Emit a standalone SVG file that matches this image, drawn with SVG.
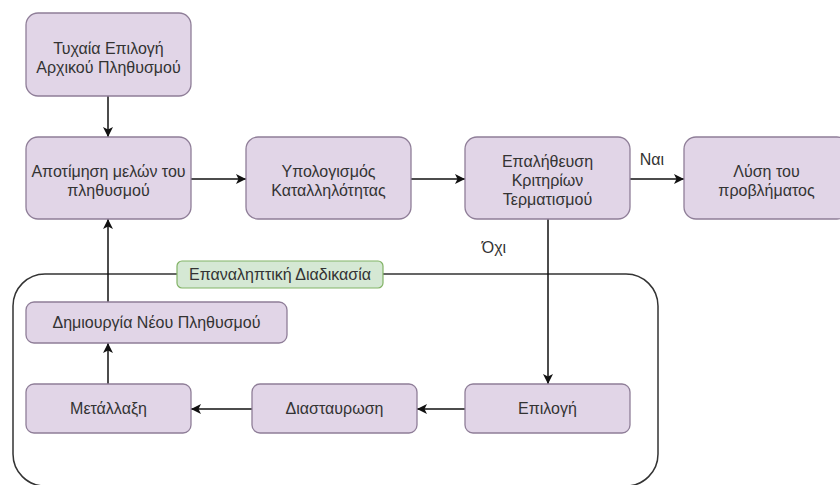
<svg xmlns="http://www.w3.org/2000/svg" width="840" height="485" viewBox="0 0 840 485">
<defs>
<style>
.box{fill:#e1d5e7;stroke:#8f7e98;stroke-width:1.3}
.t{font-family:"Liberation Sans",Arial,sans-serif;font-size:16px;fill:#333;text-anchor:middle}
.e{fill:none;stroke:#111;stroke-width:1.5}
</style>
<marker id="ah" markerUnits="userSpaceOnUse" markerWidth="12" markerHeight="12" refX="10" refY="5" orient="auto">
<path d="M0,0 L10,5 L0,10 L2.5,5 Z" fill="#111"/>
</marker>
</defs>
<rect width="840" height="485" fill="#fff"/>
<g id="container">
<rect x="13" y="274" width="645" height="212" rx="32" ry="32" fill="none" stroke="#333" stroke-width="1.5"/>
</g>
<g id="connectors">
<line class="e" x1="108" y1="96" x2="108" y2="137" marker-end="url(#ah)"/>
<line class="e" x1="191" y1="179" x2="246" y2="179" marker-end="url(#ah)"/>
<line class="e" x1="411" y1="179" x2="465" y2="179" marker-end="url(#ah)"/>
<line class="e" x1="630" y1="179" x2="684" y2="179" marker-end="url(#ah)"/>
<line class="e" x1="548" y1="219" x2="548" y2="384" marker-end="url(#ah)"/>
<line class="e" x1="465" y1="409" x2="417" y2="409" marker-end="url(#ah)"/>
<line class="e" x1="252" y1="409" x2="191" y2="409" marker-end="url(#ah)"/>
<line class="e" x1="108" y1="384" x2="108" y2="343" marker-end="url(#ah)"/>
<line class="e" x1="108" y1="302" x2="108" y2="219" marker-end="url(#ah)"/>
<text class="t" x="652" y="165">Ναι</text>
<text class="t" x="494" y="253">Όχι</text>
</g>
<g id="loop-label">
<rect x="177" y="261" width="206" height="27" rx="5" fill="#d5e8d4" stroke="#82b366" stroke-width="1.2"/>
<text class="t" x="280" y="280">Επαναληπτική Διαδικασία</text>
</g>
<g id="n1">
<rect class="box" x="26" y="13" width="165" height="83" rx="12"/>
<text class="t" x="108.5" y="54">Τυχαία Επιλογή</text>
<text class="t" x="108.5" y="73">Αρχικού Πληθυσμού</text>
</g>
<g id="n2">
<rect class="box" x="26" y="137" width="165" height="82" rx="12"/>
<text class="t" x="108.5" y="177">Αποτίμηση μελών του</text>
<text class="t" x="108.5" y="196">πληθυσμού</text>
</g>
<g id="n3">
<rect class="box" x="246" y="137" width="165" height="82" rx="12"/>
<text class="t" x="328.5" y="177">Υπολογισμός</text>
<text class="t" x="328.5" y="196">Καταλληλότητας</text>
</g>
<g id="n4">
<rect class="box" x="465" y="137" width="165" height="82" rx="12"/>
<text class="t" x="547.5" y="167">Επαλήθευση</text>
<text class="t" x="547.5" y="186">Κριτηρίων</text>
<text class="t" x="547.5" y="205">Τερματισμού</text>
</g>
<g id="n5">
<rect class="box" x="684" y="137" width="165" height="82" rx="12"/>
<text class="t" x="766.5" y="177">Λύση του</text>
<text class="t" x="766.5" y="196">προβλήματος</text>
</g>
<g id="n6">
<rect class="box" x="26" y="302" width="261" height="41" rx="8"/>
<text class="t" x="156.5" y="328">Δημιουργία Νέου Πληθυσμού</text>
</g>
<g id="n7">
<rect class="box" x="26" y="384" width="165" height="49" rx="8"/>
<text class="t" x="108.5" y="414">Μετάλλαξη</text>
</g>
<g id="n8">
<rect class="box" x="252" y="384" width="165" height="49" rx="8"/>
<text class="t" x="334.5" y="414">Διασταυρωση</text>
</g>
<g id="n9">
<rect class="box" x="465" y="384" width="165" height="49" rx="8"/>
<text class="t" x="547.5" y="414">Επιλογή</text>
</g>
</svg>
